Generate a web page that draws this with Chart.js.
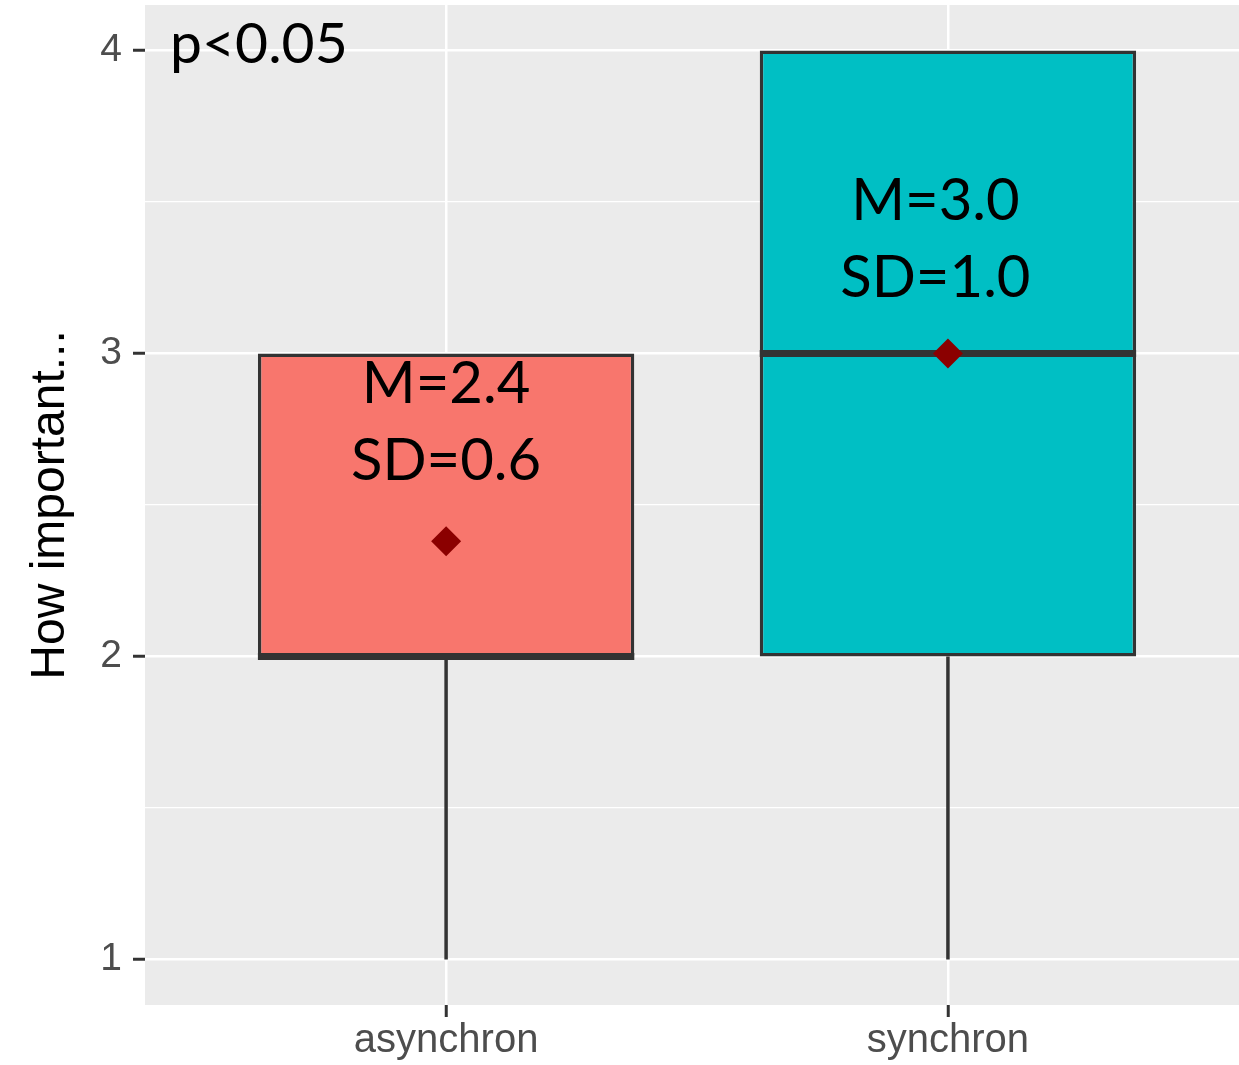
<!DOCTYPE html>
<html>
<head>
<meta charset="utf-8">
<script src="https://cdn.jsdelivr.net/npm/chart.js@4/dist/chart.umd.min.js"></script>
<style>
  body { margin: 0; background: #fff; }
  #wrap { width: 1239px; height: 1065px; }
</style>
</head>
<body>
<div id="wrap"><canvas id="boxChart"></canvas></div>
<script>
// data
var groups    = ['asynchron', 'synchron'];
var whiskLow  = [1, 1];
var q1        = [2, 2];
var medians   = [2, 3];
var q3        = [3, 4];
var whiskHigh = [3, 4];
var means     = [2.38, 3.0];
var sds       = [0.6, 1.0];
var yTicks    = [1, 2, 3, 4];
var pLabel    = 'p<0.05';

var fills = ['#F8766D', '#00BFC4'];
var lineCol = '#333333';

// ggplot-ish panel background
var panelBg = {
  id: 'panelBg',
  beforeDraw: function (chart) {
    var a = chart.chartArea, ctx = chart.ctx;
    ctx.save();
    ctx.fillStyle = '#EBEBEB';
    ctx.fillRect(a.left, a.top, a.right - a.left, a.bottom - a.top);
    ctx.restore();
  }
};

// whiskers under the boxes, medians on top of them
var boxExtras = {
  id: 'boxExtras',
  beforeDatasetsDraw: function (chart) {
    var x = chart.scales.x, y = chart.scales.y, ctx = chart.ctx;
    ctx.save();
    ctx.strokeStyle = lineCol;
    ctx.lineWidth = 3.5;
    groups.forEach(function (g, i) {
      var px = x.getPixelForValue(i + 1);
      ctx.beginPath();
      ctx.moveTo(px, y.getPixelForValue(whiskLow[i]));
      ctx.lineTo(px, y.getPixelForValue(q1[i]));
      ctx.moveTo(px, y.getPixelForValue(q3[i]));
      ctx.lineTo(px, y.getPixelForValue(whiskHigh[i]));
      ctx.stroke();
    });
    ctx.restore();
  },
  afterDatasetDraw: function (chart, args) {
    if (args.meta.type !== 'bar') return;
    var y = chart.scales.y, ctx = chart.ctx;
    ctx.save();
    ctx.strokeStyle = lineCol;
    ctx.lineWidth = 7;
    args.meta.data.forEach(function (bar, i) {
      var py = y.getPixelForValue(medians[i]);
      ctx.beginPath();
      ctx.moveTo(bar.x - bar.width / 2, py);
      ctx.lineTo(bar.x + bar.width / 2, py);
      ctx.stroke();
    });
    ctx.restore();
  }
};

// M / SD text and the p value
var labels = {
  id: 'labels',
  afterDraw: function (chart) {
    var x = chart.scales.x, y = chart.scales.y, ctx = chart.ctx;
    var spots = [
      { x: 1.0,  m: 2.835, s: 2.581 },
      { x: 1.975, m: 3.439, s: 3.185 }
    ];
    ctx.save();
    ctx.fillStyle = '#000';
    ctx.font = '58px Lato';
    ctx.textAlign = 'center';
    ctx.textBaseline = 'alphabetic';
    spots.forEach(function (s, i) {
      ctx.fillText('M=' + means[i].toFixed(1), x.getPixelForValue(s.x), y.getPixelForValue(s.m));
      ctx.fillText('SD=' + sds[i].toFixed(1), x.getPixelForValue(s.x), y.getPixelForValue(s.s));
    });
    ctx.textAlign = 'left';
    ctx.font = '57px Lato';
    ctx.fillText(pLabel, x.getPixelForValue(0.45), y.getPixelForValue(3.957));
    ctx.restore();
  }
};

var ctx = document.getElementById('boxChart').getContext('2d');
new Chart(ctx, {
  type: 'bar',
  data: {
    datasets: [{
      type: 'scatter',
      order: 0,
      data: groups.map(function (g, i) { return { x: i + 1, y: means[i] }; }),
      pointStyle: 'rectRot',
      pointRadius: 15,
      pointHoverRadius: 15,
      backgroundColor: '#8B0000',
      borderColor: '#8B0000',
      borderWidth: 0
    }, {
      type: 'bar',
      order: 1,
      data: groups.map(function (g, i) { return { x: i + 1, y: [q1[i], q3[i]] }; }),
      backgroundColor: fills,
      borderColor: lineCol,
      borderWidth: 3.5,
      borderSkipped: false,
      categoryPercentage: 1,
      barPercentage: 0.75
    }]
  },
  options: {
    responsive: true,
    maintainAspectRatio: false,
    animation: false,
    layout: { autoPadding: false, padding: { top: 5, right: 0, left: 0, bottom: 0 } },
    plugins: { legend: { display: false }, tooltip: { enabled: false } },
    scales: {
      x: {
        type: 'linear',
        min: 0.4,
        max: 2.58,
        offset: false,
        afterBuildTicks: function (scale) {
          scale.ticks = groups.map(function (g, i) { return { value: i + 1 }; });
        },
        afterFit: function (scale) {
          scale.height = 60;
          scale.paddingLeft = 0;
          scale.paddingRight = 0;
        },
        ticks: {
          padding: 0,
          color: '#4D4D4D',
          font: { family: 'Liberation Sans', size: 40 },
          callback: function (v) { return groups[v - 1]; }
        },
        grid: { offset: false, color: '#FFFFFF', lineWidth: 2.5, tickColor: lineCol, tickLength: 12, tickWidth: 3 },
        border: { display: false }
      },
      y: {
        type: 'linear',
        min: 0.85,
        max: 4.15,
        afterBuildTicks: function (scale) {
          var t = [];
          for (var v = 1; v <= 4; v += 0.5) t.push({ value: v });
          scale.ticks = t;
        },
        afterFit: function (scale) {
          scale.width = 145;
          scale.paddingTop = 0;
          scale.paddingBottom = 0;
        },
        title: {
          display: true,
          text: 'How important...',
          color: '#000',
          font: { family: 'Liberation Sans', size: 48 },
          padding: { top: 22, bottom: 0 }
        },
        ticks: {
          padding: 11,
          color: '#4D4D4D',
          font: { family: 'Liberation Sans', size: 39 },
          callback: function (v) { return yTicks.indexOf(v) >= 0 ? String(v) : ''; }
        },
        grid: {
          color: '#FFFFFF',
          lineWidth: function (c) { return yTicks.indexOf(c.tick.value) >= 0 ? 2.5 : 1.2; },
          tickColor: function (c) { return yTicks.indexOf(c.tick.value) >= 0 ? lineCol : 'rgba(0,0,0,0)'; },
          tickLength: 12,
          tickWidth: 3
        },
        border: { display: false }
      }
    }
  },
  plugins: [panelBg, boxExtras, labels]
});
</script>
</body>
</html>
